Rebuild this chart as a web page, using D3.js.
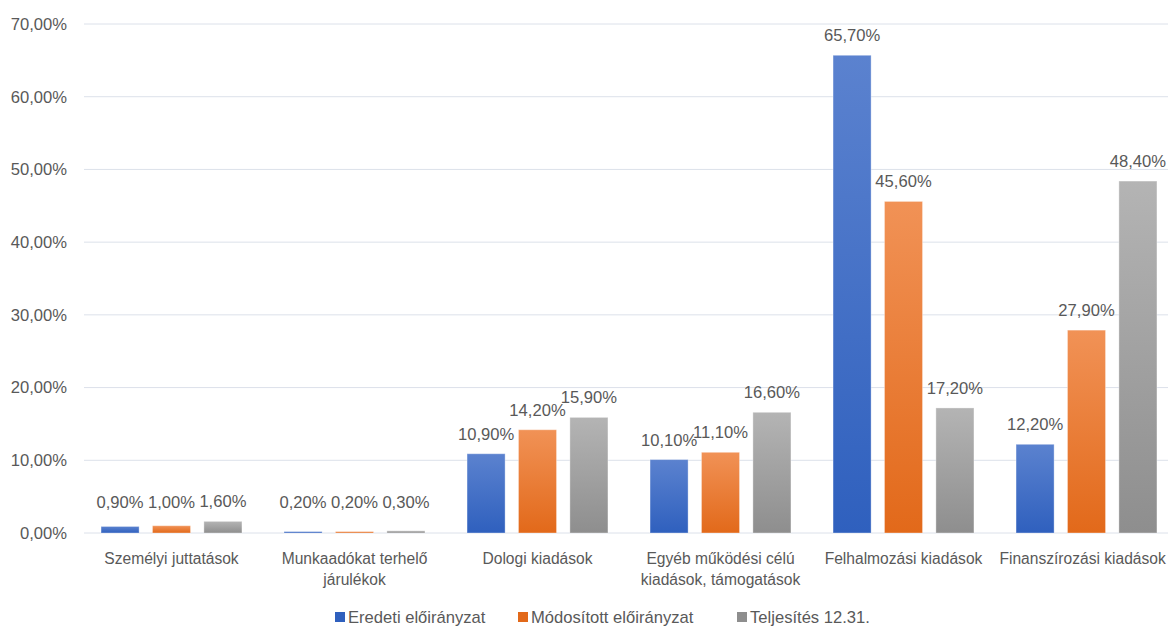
<!DOCTYPE html>
<html>
<head>
<meta charset="utf-8">
<script src="https://d3js.org/d3.v7.min.js"></script>
<style>
  body { margin: 0; background: #fff; overflow: hidden; }
  text { font-family: "Liberation Sans", Arial, sans-serif; fill: #595959; }
</style>
</head>
<body>
<div id="viz"></div>
<script>
const categories = [
  ["Személyi juttatások"],
  ["Munkaadókat terhelő", "járulékok"],
  ["Dologi kiadások"],
  ["Egyéb működési célú", "kiadások, támogatások"],
  ["Felhalmozási kiadások"],
  ["Finanszírozási kiadások"]
];
const seriesNames = ["Eredeti előirányzat", "Módosított előirányzat", "Teljesítés 12.31."];
const eredeti = [0.9, 0.2, 10.9, 10.1, 65.7, 12.2];
const modositott = [1.0, 0.2, 14.2, 11.1, 45.6, 27.9];
const teljesites = [1.6, 0.3, 15.9, 16.6, 17.2, 48.4];
const yTicks = [0, 10, 20, 30, 40, 50, 60, 70];

const colors = [
  ["#5b82cf", "#2f60be"],
  ["#f19256", "#e2691a"],
  ["#b4b4b4", "#8e8e8e"]
];

const W = 1168, H = 628;
const plotLeft = 80, plotRight = 1178, plotTop = 24, plotBottom = 533;
const fs = '16.6px';

const svg = d3.select('#viz').append('svg')
  .attr('width', W).attr('height', H);

const defs = svg.append('defs');
colors.forEach((c, i) => {
  const g = defs.append('linearGradient').attr('id', 'g' + i)
    .attr('x1', 0).attr('y1', 0).attr('x2', 0).attr('y2', 1);
  g.append('stop').attr('offset', '0%').attr('stop-color', c[0]);
  g.append('stop').attr('offset', '100%').attr('stop-color', c[1]);
});

const catIdx = categories.map((d, i) => i);
const x = d3.scaleBand().domain(catIdx).range([plotLeft, plotRight]).paddingInner(0.23).paddingOuter(0.115);
const xs = d3.scaleBand().domain([0, 1, 2]).range([0, x.bandwidth()]).paddingInner(0.26);
const y = d3.scaleLinear().domain([0, 70]).range([plotBottom, plotTop]);

// gridlines
svg.append('g').selectAll('line').data(yTicks).join('line')
  .attr('x1', plotLeft + 4).attr('x2', W)
  .attr('y1', d => y(d)).attr('y2', d => y(d))
  .attr('stroke', '#dce1ea').attr('stroke-width', 1);

// y tick labels
svg.append('g').selectAll('text').data(yTicks).join('text')
  .attr('x', 67).attr('y', d => y(d)).attr('dy', '0.35em')
  .attr('text-anchor', 'end').style('font-size', fs)
  .text(d => d.toFixed(2).replace('.', ',') + '%');

const series = [eredeti, modositott, teljesites];
const fmt = v => v.toFixed(2).replace('.', ',') + '%';

series.forEach((vals, s) => {
  const g = svg.append('g');
  g.selectAll('rect').data(vals).join('rect')
    .attr('x', (d, i) => x(i) + xs(s))
    .attr('y', d => y(d))
    .attr('width', xs.bandwidth())
    .attr('height', d => plotBottom - y(d))
    .attr('fill', `url(#g${s})`)
    .attr('stroke', 'rgba(255,255,255,0.35)').attr('stroke-width', 1);
  g.selectAll('text').data(vals).join('text')
    .attr('x', (d, i) => x(i) + xs(s) + xs.bandwidth() / 2)
    .attr('y', d => Math.min(y(d) - 14, 508))
    .attr('text-anchor', 'middle').style('font-size', fs)
    .text(fmt);
});

// category labels
const cl = svg.append('g').selectAll('text').data(categories).join('text')
  .attr('text-anchor', 'middle').style('font-size', '15.6px')
  .attr('transform', (d, i) => `translate(${x(i) + x.bandwidth() / 2},564)`);
cl.selectAll('tspan').data(d => d).join('tspan')
  .attr('x', 0).attr('y', (d, i) => i * 21)
  .text(d => d);
// keep the last label inside the window
cl.each(function(d, i) {
  const bb = this.getBBox();
  const cx = x(i) + x.bandwidth() / 2;
  const shift = Math.min(0, W - 2 - (cx + bb.x + bb.width));
  d3.select(this).attr('transform', `translate(${cx + shift},564)`);
});

// legend
const legX = [335, 518, 737];
const leg = svg.append('g').selectAll('g').data(seriesNames).join('g')
  .attr('transform', (d, i) => `translate(${legX[i]},617)`);
leg.append('rect').attr('x', 0).attr('y', -5).attr('width', 10).attr('height', 10)
  .attr('fill', (d, i) => colors[i][1]);
leg.append('text').attr('x', 13).attr('y', 0).attr('dy', '0.35em')
  .style('font-size', fs).text(d => d);
</script>
</body>
</html>
